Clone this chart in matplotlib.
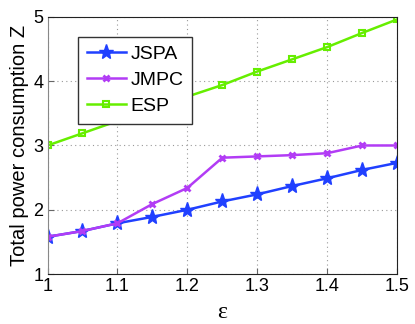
import numpy as np
import matplotlib
matplotlib.use("Agg")
from matplotlib import pyplot as plt

plt.rcParams['font.family'] = ['Liberation Sans', 'DejaVu Sans']

eps = [1.0, 1.05, 1.1, 1.15, 1.2, 1.25, 1.3, 1.35, 1.4, 1.45, 1.5]
jspa = [1.58, 1.67, 1.79, 1.89, 2.0, 2.13, 2.24, 2.37, 2.49, 2.62, 2.73]
jmpc = [1.58, 1.67, 1.79, 2.09, 2.34, 2.81, 2.83, 2.85, 2.88, 3.0, 3.0]
esp = [3.0, 3.19, 3.38, 3.57, 3.76, 3.94, 4.15, 4.34, 4.53, 4.75, 4.96]

fig = plt.figure(figsize=(4.15, 3.24), dpi=100)
ax = fig.add_axes([0.1145, 0.154, 0.8425, 0.794])

ax.plot(eps, jspa, color='#2040ff', lw=1.8, marker='*', ms=11, label='JSPA')
ax.plot(eps, jmpc, color='#b23cf5', lw=1.8, marker='x', ms=4, mew=2, label='JMPC')
ax.plot(eps, esp, color='#66ee00', lw=1.8, marker='s', ms=5, mfc='none', mew=1.5, label='ESP')

ax.set_xlim(1, 1.5)
ax.set_ylim(1, 5)
ax.set_xticks([1, 1.1, 1.2, 1.3, 1.4, 1.5])
ax.set_xticklabels(['1', '1.1', '1.2', '1.3', '1.4', '1.5'])
ax.set_yticks([1, 2, 3, 4, 5])
ax.grid(True, linestyle=(0, (1, 3)), color='#999999', lw=0.8)
ax.tick_params(direction='in', labelsize=13, length=4, color='#666666', pad=3)
for s in ax.spines.values():
    s.set_color('#222222')
ax.spines['left'].set_color('#888888')
ax.set_xlabel('ε', fontsize=17, family='Liberation Serif', labelpad=5)
ax.set_ylabel('Total power consumption Z', fontsize=14.5, labelpad=3)

leg = ax.legend(loc='upper left', bbox_to_anchor=(0.087, 0.922), fontsize=14,
                fancybox=False, framealpha=1, edgecolor='#333333', borderaxespad=0,
                handlelength=2.0, borderpad=0.45, labelspacing=0.42, handletextpad=0.25)
leg.get_frame().set_linewidth(1.0)

fig.savefig('out.png', dpi=100)
